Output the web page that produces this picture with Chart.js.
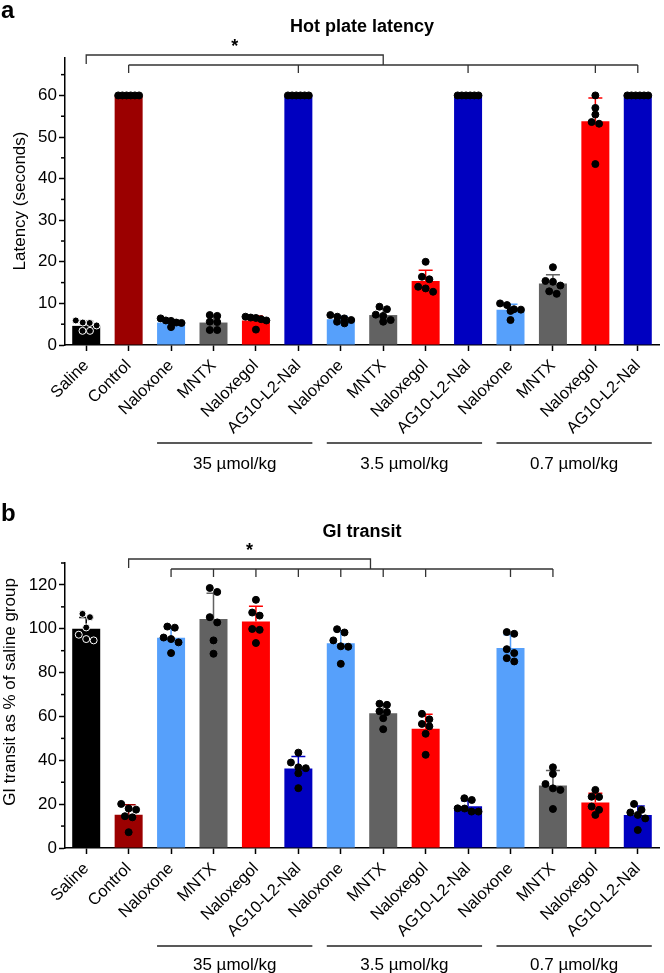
<!DOCTYPE html>
<html>
<head>
<meta charset="utf-8">
<script src="https://cdn.jsdelivr.net/npm/chart.js@4.4.1/dist/chart.umd.min.js"></script>
<style>
  html, body { margin: 0; padding: 0; background: #fff; }
  .panel { position: absolute; left: 0; width: 664px; }
  #panelA { top: 0; height: 490px; }
  #panelB { top: 490px; height: 483px; }
</style>
</head>
<body>
<div class="panel" id="panelA"><canvas id="chartA" width="664" height="490"></canvas></div>
<div class="panel" id="panelB"><canvas id="chartB" width="664" height="483"></canvas></div>
<script>
// groups along the x axis
const categories = ['Saline', 'Control', 'Naloxone', 'MNTX', 'Naloxegol', 'AG10-L2-Nal',
    'Naloxone', 'MNTX', 'Naloxegol', 'AG10-L2-Nal', 'Naloxone', 'MNTX', 'Naloxegol', 'AG10-L2-Nal'];
const doseLabels = ['35 µmol/kg', '3.5 µmol/kg', '0.7 µmol/kg'];
const barColors = ['#000000', '#9b0000', '#56a0fb', '#626262', '#ff0000', '#0000c0',
    '#56a0fb', '#626262', '#ff0000', '#0000c0', '#56a0fb', '#626262', '#ff0000', '#0000c0'];

// a: hot plate latency (seconds)
const hotPlateMean = [4.6, 60, 5.4, 5.4, 5.9, 60, 6.2, 7.2, 15.4, 60, 8.5, 14.8, 53.8, 60];
const hotPlateSD = [1.1, 0, 0.6, 1.5, 1.1, 0, 0.7, 1.4, 2.6, 0, 1.3, 2.1, 5.6, 0];
const hotPlatePoints = [
    [5.9, 5.4, 5.3, 4.7, 3.4, 3.4],
    [60, 60, 60, 60, 60, 60],
    [6.4, 5.9, 5.8, 5.4, 5.3, 4.3],
    [7.2, 7.0, 5.6, 5.5, 3.6, 3.6],
    [6.8, 6.6, 6.5, 6.2, 5.9, 3.7],
    [60, 60, 60, 60, 60, 60],
    [7.2, 6.8, 6.4, 6.0, 5.6, 5.2],
    [9.2, 8.6, 7.3, 7.0, 6.0, 5.6],
    [20.0, 16.4, 15.8, 14.0, 13.6, 12.8],
    [60, 60, 60, 60, 60, 60],
    [10.0, 9.6, 8.6, 8.5, 8.2, 6.0],
    [18.7, 15.4, 15.2, 14.3, 12.9, 12.3],
    [60, 57, 55.4, 53.6, 53.2, 43.5],
    [60, 60, 60, 60, 60, 60]
];

// b: GI transit as % of saline group
const gitMean = [100, 15.2, 95.9, 104.4, 103.3, 36.3, 93.4, 61.5, 54.4, 19.0, 91.2, 28.5, 20.8, 15.1];
const gitSD = [5.1, 4.5, 4.3, 11.8, 7.0, 5.4, 5.7, 4.3, 6.6, 2.6, 6.1, 6.8, 4.2, 4.1];
const gitPoints = [
    [106.8, 105.3, 100.6, 97.3, 95.3, 94.7],
    [20.1, 18.0, 17.5, 14.5, 14.0, 7.2],
    [101.0, 100.5, 96.0, 95.3, 93.8, 88.9],
    [118.6, 116.8, 105.3, 102.9, 94.7, 88.6],
    [113.2, 107.4, 106.0, 99.9, 99.5, 93.5],
    [43.5, 39.0, 36.8, 36.4, 34.1, 27.3],
    [99.8, 98.3, 94.7, 92.0, 91.8, 84.0],
    [65.8, 65.3, 62.4, 62.0, 59.2, 54.2],
    [61.2, 58.7, 56.6, 55.5, 52.1, 42.5],
    [22.7, 21.9, 18.1, 18.0, 16.6, 16.6],
    [98.5, 97.7, 90.7, 88.9, 86.6, 85.1],
    [36.8, 33.8, 29.2, 27.2, 26.5, 17.8],
    [26.5, 23.4, 23.3, 18.9, 17.4, 15.1],
    [20.1, 17.4, 16.2, 15.1, 13.5, 8.2]
];

const FONT = "'Liberation Sans', Arial, Helvetica, sans-serif";
const dotRadius = 3.5;

// spread the dots of each group sideways where they would overlap (rough beeswarm)
function spreadPoints(chart, points) {
    const y = chart.scales.y;
    const catW = (chart.chartArea.right - chart.chartArea.left) / categories.length;
    const diam = 2 * dotRadius + 0.5;
    const out = [];
    points.forEach((vals, i) => {
        const sorted = vals.slice().sort((a, b) => b - a);
        const clusters = [];
        sorted.forEach(v => {
            const py = y.getPixelForValue(v);
            const c = clusters[clusters.length - 1];
            if (c && py - c.py0 < diam * 0.85) c.vals.push(v);
            else clusters.push({ py0: py, vals: [v] });
        });
        clusters.forEach(c => {
            const n = c.vals.length;
            const step = n > 1 ? Math.min(diam, 21 / (n - 1)) : 0;
            c.vals.forEach((v, k) => {
                out.push({ x: i + ((k - (n - 1) / 2) * step) / catW, y: v, g: i });
            });
        });
    });
    return out;
}

function makeExtras(cfg) {
    return {
        id: 'extras',
        afterDatasetDraw(chart, args) {
            if (args.index !== 0) return;
            // error bars (mean + SD)
            const ctx = chart.ctx, x = chart.scales.x, y = chart.scales.y;
            ctx.save();
            ctx.lineWidth = 1.5;
            cfg.means.forEach((m, i) => {
                if (!cfg.sd[i]) return;
                const px = x.getPixelForValue(i);
                const top = y.getPixelForValue(m + cfg.sd[i]);
                ctx.strokeStyle = barColors[i];
                ctx.beginPath();
                ctx.moveTo(px, y.getPixelForValue(m));
                ctx.lineTo(px, top);
                ctx.moveTo(px - 7, top);
                ctx.lineTo(px + 7, top);
                ctx.stroke();
            });
            ctx.restore();
        },
        afterDraw(chart) {
            const ctx = chart.ctx, x = chart.scales.x, y = chart.scales.y;
            const area = chart.chartArea;
            ctx.save();

            // minor ticks on the y axis
            ctx.strokeStyle = '#000';
            ctx.lineWidth = 1.5;
            cfg.minorTicks.forEach(v => {
                const py = y.getPixelForValue(v);
                ctx.beginPath();
                ctx.moveTo(area.left - 4, py);
                ctx.lineTo(area.left, py);
                ctx.stroke();
            });

            // panel letter and title
            ctx.fillStyle = '#000';
            ctx.font = 'bold 24px ' + FONT;
            ctx.textAlign = 'left';
            ctx.textBaseline = 'alphabetic';
            ctx.fillText(cfg.letter, 1, cfg.letterY);
            ctx.font = 'bold 18px ' + FONT;
            ctx.textAlign = 'center';
            ctx.textBaseline = 'middle';
            ctx.fillText(cfg.title, (area.left + area.right) / 2, cfg.titleY);

            // y axis title
            ctx.save();
            ctx.translate(cfg.yTitleX, cfg.yTitleY);
            ctx.rotate(-Math.PI / 2);
            ctx.font = '17px ' + FONT;
            ctx.fillText(cfg.yTitle, 0, 0);
            ctx.restore();

            // significance brackets
            const b = cfg.bracket;
            ctx.strokeStyle = '#333';
            ctx.lineWidth = 1.3;
            const xs = x.getPixelForValue(b.upperFrom);
            const xd = x.getPixelForValue(b.upperTo);
            ctx.beginPath();
            ctx.moveTo(xs, b.upperY + 9);
            ctx.lineTo(xs, b.upperY);
            ctx.lineTo(xd, b.upperY);
            ctx.lineTo(xd, b.lowerY);
            ctx.stroke();
            const lt = b.lowerTicks;
            ctx.beginPath();
            ctx.moveTo(x.getPixelForValue(lt[0]), b.lowerY);
            ctx.lineTo(x.getPixelForValue(lt[lt.length - 1]), b.lowerY);
            lt.forEach(t => {
                const px = x.getPixelForValue(t);
                ctx.moveTo(px, b.lowerY);
                ctx.lineTo(px, b.lowerY + 8);
            });
            ctx.stroke();
            ctx.font = 'bold 18px ' + FONT;
            ctx.fillText('*', (xs + xd) / 2, b.upperY - 8);

            // dose groups under the axis labels
            const half = (area.right - area.left) / categories.length * 0.33;
            ctx.strokeStyle = '#222';
            ctx.lineWidth = 1.5;
            ctx.font = '17px ' + FONT;
            doseLabels.forEach((lab, g) => {
                const x1 = x.getPixelForValue(2 + 4 * g) - half;
                const x2 = x.getPixelForValue(5 + 4 * g) + half;
                ctx.beginPath();
                ctx.moveTo(x1, cfg.doseLineY);
                ctx.lineTo(x2, cfg.doseLineY);
                ctx.stroke();
                ctx.fillText(lab, (x1 + x2) / 2, cfg.doseTextY);
            });
            ctx.restore();
        }
    };
}

function makePanel(canvasId, cfg) {
    const chart = new Chart(document.getElementById(canvasId), {
        data: {
            labels: categories,
            datasets: [{
                type: 'bar',
                data: cfg.means,
                backgroundColor: barColors,
                borderWidth: 0,
                grouped: false,
                barPercentage: 0.66,
                categoryPercentage: 1,
                xAxisID: 'x',
                yAxisID: 'y',
                order: 2
            }, {
                type: 'scatter',
                data: [],
                xAxisID: 'x2',
                yAxisID: 'y',
                pointRadius: dotRadius,
                pointBackgroundColor: '#000',
                pointBorderColor: c => (c.raw && c.raw.g === 0 ? '#fff' : '#000'),
                pointBorderWidth: 1,
                order: 1
            }]
        },
        options: {
            responsive: false,
            animation: false,
            layout: { padding: { top: cfg.top, right: 1, left: 0, bottom: 0 } },
            plugins: { legend: { display: false }, tooltip: { enabled: false }, title: { display: false } },
            scales: {
                x: {
                    type: 'category',
                    offset: true,
                    border: { color: '#000', width: 1.5 },
                    grid: { offset: false, drawOnChartArea: false, tickLength: 6, tickColor: '#000', tickWidth: 1.5 },
                    ticks: { autoSkip: false, minRotation: 45, maxRotation: 45, padding: 5, color: '#000', font: { family: FONT, size: 16.5 } },
                    afterFit: s => { s.height = cfg.xHeight; }
                },
                x2: { type: 'linear', min: -0.5, max: categories.length - 0.5, display: false },
                y: {
                    min: 0,
                    max: cfg.max,
                    border: { color: '#000', width: 1.5 },
                    grid: { drawOnChartArea: false, tickLength: 6, tickColor: '#000', tickWidth: 1.5 },
                    ticks: { stepSize: cfg.step, padding: 2, color: '#000', font: { family: FONT, size: 17 } },
                    afterBuildTicks: s => { s.ticks = s.ticks.filter(t => t.value % cfg.step === 0); },
                    afterFit: s => { s.width = 65; }
                }
            }
        },
        plugins: [makeExtras(cfg)]
    });
    chart.data.datasets[1].data = spreadPoints(chart, cfg.points);
    chart.update('none');
    return chart;
}

makePanel('chartA', {
    means: hotPlateMean, sd: hotPlateSD, points: hotPlatePoints,
    max: 69, step: 10, minorTicks: [5, 15, 25, 35, 45, 55, 65],
    top: 58, xHeight: 145,
    letter: 'a', letterY: 18, title: 'Hot plate latency', titleY: 27,
    yTitle: 'Latency (seconds)', yTitleX: 20, yTitleY: 201,
    bracket: { upperFrom: 0, upperTo: 7, upperY: 55, lowerY: 65, lowerTicks: [1, 5, 9, 12, 13] },
    doseLineY: 443, doseTextY: 464
});

makePanel('chartB', {
    means: gitMean, sd: gitSD, points: gitPoints,
    max: 130, step: 20, minorTicks: [10, 30, 50, 70, 90, 110, 130],
    top: 73, xHeight: 125,
    letter: 'b', letterY: 31, title: 'GI transit', titleY: 42,
    yTitle: 'GI transit as % of saline group', yTitleX: 10, yTitleY: 202,
    bracket: { upperFrom: 1, upperTo: 6.7, upperY: 69, lowerY: 79, lowerTicks: [2, 3, 4, 5, 6, 7, 8, 10, 11] },
    doseLineY: 456, doseTextY: 475
});
</script>
</body>
</html>
